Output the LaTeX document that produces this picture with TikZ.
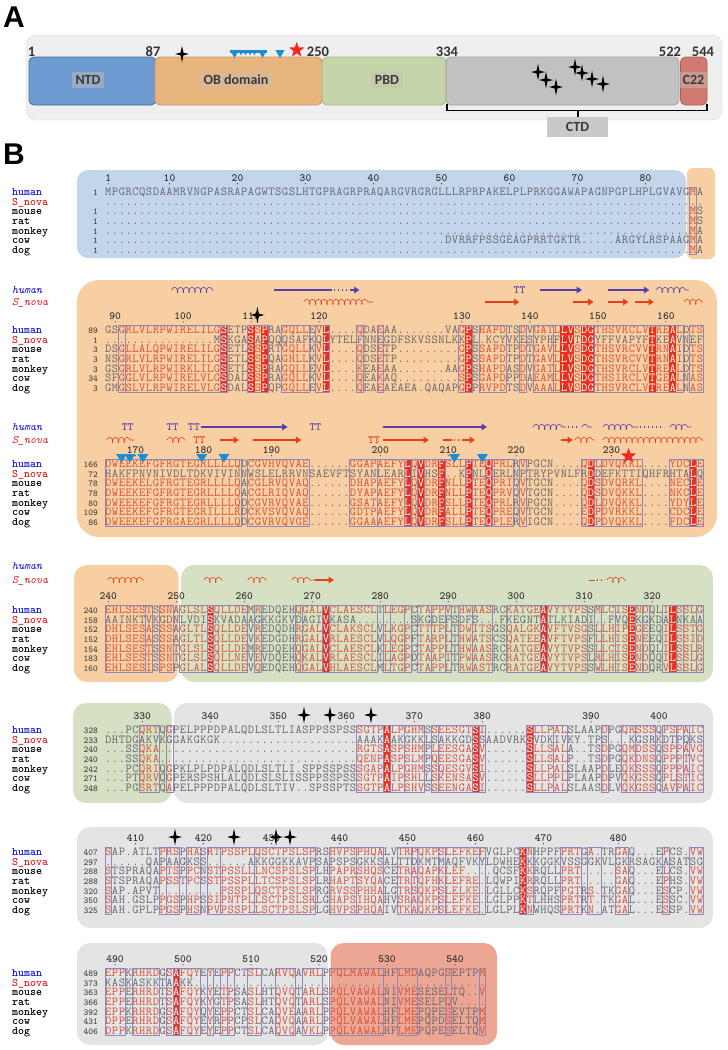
\documentclass[tikz,border=0pt]{standalone}
\usepackage{fontspec}
\newfontfamily\calfont{Carlito}
\newfontfamily\panfont{Liberation Sans}
\usetikzlibrary{arrows.meta,decorations.pathmorphing,shapes.geometric}

\definecolor{outergray}{HTML}{EFEFEF}
\definecolor{outerline}{HTML}{DADADA}
\definecolor{ntdblue}{HTML}{6F9BD3}
\definecolor{ntdline}{HTML}{45699A}
\definecolor{obtan}{HTML}{E8B47D}
\definecolor{obline}{HTML}{CC9962}
\definecolor{pbdgreen}{HTML}{C6D4A9}
\definecolor{pbdline}{HTML}{ABBA8E}
\definecolor{ctdgray}{HTML}{C1C1C1}
\definecolor{ctdline}{HTML}{A2A2A2}
\definecolor{c22red}{HTML}{D07A72}
\definecolor{c22line}{HTML}{B05E57}
\definecolor{labgray}{HTML}{3A3A3A}
\definecolor{labfill}{HTML}{C8C0B4}
\definecolor{ctdbox}{HTML}{C9C9C9}
\definecolor{bgblue}{HTML}{C3D5EA}
\definecolor{bgorange}{HTML}{F8CFA2}
\definecolor{bggreen}{HTML}{D6E0C2}
\definecolor{bggray}{HTML}{E4E4E4}
\definecolor{bgred}{HTML}{EDA594}
\definecolor{seqgray}{HTML}{66666E}
\definecolor{seqred}{HTML}{D5503A}
\definecolor{hlred}{HTML}{E8301C}
\definecolor{boxcol}{HTML}{8D87BC}
\definecolor{sshum}{HTML}{5B3EAE}
\definecolor{ssnov}{HTML}{E8401C}
\definecolor{triblue}{HTML}{1D8DD1}
\definecolor{starred}{HTML}{F0281E}
\definecolor{humblue}{HTML}{1515D6}
\definecolor{novred}{HTML}{E21E1E}
\definecolor{numgray}{HTML}{333333}

% alignment grid: column 1 starts at x=104.9, one column is 6.8 wide
\newlength\cw \setlength\cw{6.8pt}
\def\tendots{..........}
\def\gobbleone#1{}
\def\keepone#1{#1}

% column mask: - plain, r boxed, H identical
\newcommand\mkmask[2]{%
  \xdef\curmask{}%
  \foreach \ci in {1,...,#1}{%
    \xdef\mcc{-}%
    \foreach \ma/\mb/\mt in #2{%
      \ifnum\ci<\ma\relax\else\ifnum\ci>\mb\relax\else\xdef\mcc{\mt}\fi\fi}%
    \xdef\curmask{\curmask\mcc}}%
  \xdef\curmask{\curmask------}}

\def\nmch#1{\makebox[\cw]{\color{seqgray}#1}}
\def\rdch#1{\makebox[\cw]{\color{seqred}#1}}
\def\hlch#1{{\fboxsep=0pt\colorbox{hlred}{\makebox[\cw]{\rule[-1.5pt]{0pt}{9.65pt}\color{white}#1}}}}
\def\seqch#1{%
  \if H\mcur \hlch{#1}%
  \else\if r\mcur \ifnum\snflag=1 \nmch{#1}\else\rdch{#1}\fi
  \else \nmch{#1}\fi\fi}
\def\popmask#1#2\relax{\gdef\mcur{#1}\gdef\mrest{#2}}
\def\seqloop#1#2\relax{%
  \expandafter\popmask\mrest\relax
  \seqch{#1}%
  \ifx\relax#2\relax\expandafter\gobbleone\else\expandafter\keepone\fi
  {\seqloop#2\relax}}
\newcommand\seqrow[2]{%
  \gdef\snflag{#2}\xdef\mrest{\curmask}%
  \edef\seqtmp{#1}\expandafter\seqloop\seqtmp\relax}

% name, first row centre, row index, start number, sequence, S_nova flag
\newcommand\alnrow[6]{%
  \node[rownum] (#1n) at (98,{#2+#3*9.65+3.4}) {#4};
  \node[seqtxt] (#1) at (104.9,{#2+#3*9.65+3.4}) {\seqrow{#5}{#6}};}

\newcommand\spnames[2]{%
  \foreach \sp/\scol [count=\k from 0] in {human/humblue,S\_nova/novred,mouse/black,rat/black,monkey/black,cow/black,dog/black}
    \node[spname, text=\scol] (#1\k) at (12,{#2+\k*9.65+3.4}) {\sp};}

\newcommand\ruler[2]{%
  \foreach \rn/\cl in {#2}{%
    \node[rulenum] (rl\rn) at ({104.9+(\cl-0.5)*6.8},#1-14) {\rn};
    \fill[numgray] ({104.9+(\cl-0.5)*6.8},#1-8.2) circle (0.6);}}

\newcommand\drawboxes[2]{%
  \foreach \ma/\mb/\mt in #1{%
    \if r\mt\draw[boxln] ({104.9+(\ma-1)*6.8},#2-4.85) rectangle ({104.9+\mb*6.8},#2+62.75);\fi}}

\newcommand\sparkle[2]{\fill[black] (#1,#2) ++(0,-8.5) -- ++(1.4,7.1) -- ++(5.6,1.4) -- ++(-5.6,1.4) -- ++(-1.4,7.1) -- ++(-1.4,-7.1) -- ++(-5.6,-1.4) -- ++(5.6,-1.4) -- cycle;}

\begin{document}
\begin{tikzpicture}[x=1pt,y=-1pt,
  domainbox/.style={rounded corners=5, line width=0.8pt},
  domlab/.style={fill=labfill, fill opacity=0.45, text opacity=1, text=labgray, font=\calfont\bfseries\fontsize{14}{14}\selectfont, inner xsep=4pt, inner ysep=3.5pt},
  posnum/.style={text=numgray, font=\calfont\bfseries\fontsize{14.5}{14.5}\selectfont, inner sep=0},
  panlab/.style={font=\panfont\bfseries\fontsize{30}{30}\selectfont, inner sep=0},
  seqtxt/.style={anchor=base west, inner sep=0, outer sep=0, text height=8.1pt, text depth=1.4pt, font=\ttfamily\fontsize{12.2}{12.2}\selectfont},
  rownum/.style={anchor=base east, inner sep=0, text height=6.5pt, text depth=1pt, text=numgray, font=\ttfamily\fontsize{9}{9}\selectfont},
  spname/.style={anchor=base west, inner sep=0, text height=7.5pt, text depth=1.8pt, font=\ttfamily\bfseries\fontsize{11.4}{11.4}\selectfont},
  sslab/.style={anchor=base west, inner sep=0, font=\ttfamily\itshape\fontsize{11.4}{11.4}\selectfont},
  rulenum/.style={inner sep=0, text=numgray, font=\ttfamily\bfseries\fontsize{11}{11}\selectfont},
  boxln/.style={draw=boxcol, line width=0.6pt},
  helixH/.style={draw=sshum, line width=0.6pt, decorate, decoration={coil, aspect=0.6, segment length=5.8pt, amplitude=2.6pt}},
  helixS/.style={helixH, draw=ssnov},
  strandH/.style={draw=sshum, line width=1.7pt, -{Triangle[length=5.5pt,width=6.5pt]}},
  strandS/.style={strandH, draw=ssnov},
  dotsH/.style={draw=sshum, line width=1.3pt, dash pattern=on 1.3pt off 2.7pt},
  dotsS/.style={dotsH, draw=ssnov},
  ttH/.style={inner sep=0, text=sshum, font=\ttfamily\bfseries\fontsize{11}{11}\selectfont},
  ttS/.style={ttH, text=ssnov},
  redstar/.style={star, star points=5, star point ratio=2.4, fill=starred, minimum size=16pt, inner sep=0}]
\useasboundingbox (0,0) rectangle (728,1050);

% ---------- A: domain map
\node[panlab] (pA) at (14,17) {A};
\draw[fill=outergray, draw=outerline, rounded corners=10] (26,35) rectangle (722,120);
\draw[domainbox, fill=ntdblue, draw=ntdline] (29,57) rectangle (156,105);
\draw[domainbox, fill=obtan, draw=obline] (155,57) rectangle (322,105);
\draw[domainbox, fill=pbdgreen, draw=pbdline] (322,57) rectangle (446,105);
\draw[domainbox, fill=ctdgray, draw=ctdline] (446,57) rectangle (679,105);
\draw[domainbox, fill=c22red, draw=c22line] (680.5,57) rectangle (707,105);
\node[domlab] (ntd) at (88,80) {NTD};
\node[domlab] (ob) at (236,80) {OB domain};
\node[domlab] (pbd) at (387,80) {PBD};
\node[domlab] (c22) at (693.5,80) {C22};
\foreach \p/\x in {1/31.5,87/153,250/318,334/447,522/670,544/703}
  \node[posnum] (n\p) at (\x,51.5) {\p};
\sparkle{182}{54}
\fill[triblue] (230,50) rectangle (267,52.5);
\foreach \x in {234.5,262.5,280}
  \fill[triblue] (\x-4.5,50) -- (\x+4.5,50) -- (\x,58) -- cycle;
\foreach \x in {241,245.5,250,254.5}
  \fill[triblue] (\x-2,51) -- (\x+2,51) -- (\x,55.5) -- cycle;
\node[redstar] (starA) at (296.7,50) {};
\foreach \x/\y in {538/72,546/80,556/87,575/67,582/73,592/79,603/84}
  \sparkle{\x}{\y};
\draw[line width=1.1pt] (447,104) -- (447,110.5) -- (707,110.5) -- (707,104);
\draw[line width=1.1pt] (578,110.5) -- (578,117);
\node[fill=ctdbox, minimum width=61pt, minimum height=20pt, inner sep=0, text=labgray, font=\calfont\bfseries\fontsize{14}{14}\selectfont] (ctd) at (577.5,127) {CTD};

% ---------- B: alignment
\node[panlab] (pB) at (14,154) {B};
\fill[bgblue, rounded corners=11] (77,170) rectangle (686,258);
\fill[bgorange, rounded corners=6] (687,168) rectangle (715,259);
\fill[bgorange, rounded corners=22] (77,280) rectangle (717,537);
\fill[bgorange, rounded corners=13] (74,565) rectangle (178.5,682);
\fill[bggreen, rounded corners=13] (181,565) rectangle (713,682);
\fill[bggreen, rounded corners=13] (73,703) rectangle (171.5,803);
\fill[bggray, rounded corners=13] (174,703) rectangle (713,803);
\fill[bggray, rounded corners=13] (77,827) rectangle (713,928);
\fill[bggray, rounded corners=13] (77,943) rectangle (328,1045);
\fill[bgred, rounded corners=13] (330.5,943) rectangle (497,1045);

% block 1
\def\specA{87/87/r}
\mkmask{88}{\specA}
\spnames{b1l}{192}
\ruler{192}{1/1,10/10,20/20,30/30,40/40,50/50,60/60,70/70,80/80}
\alnrow{b1h}{192}{0}{1}{MPGRCQSDAAMRVNGPASRAPAGWTSGSLHTGPRAGRPRAQARGVRGRGLLLRPRPAKELPLPRKGGAWAPAGNPGPLHPLGVAVGMA}{0}
\alnrow{b1s}{192}{1}{}{\tendots\tendots\tendots\tendots\tendots\tendots\tendots\tendots........}{1}
\alnrow{b1m}{192}{2}{1}{\tendots\tendots\tendots\tendots\tendots\tendots\tendots\tendots......MS}{0}
\alnrow{b1r}{192}{3}{1}{\tendots\tendots\tendots\tendots\tendots\tendots\tendots\tendots......MS}{0}
\alnrow{b1k}{192}{4}{1}{\tendots\tendots\tendots\tendots\tendots\tendots\tendots\tendots......MA}{0}
\alnrow{b1c}{192}{5}{1}{\tendots\tendots\tendots\tendots\tendots DVRRFPSSGEAGPRRTGKTR.....ARGYLRSPAAGMA}{0}
\alnrow{b1d}{192}{6}{1}{\tendots\tendots\tendots\tendots\tendots\tendots\tendots\tendots......MA}{0}
\drawboxes{\specA}{192}

% block 2
\node[sslab, text=humblue] (b2hl) at (12,293.4) {human};
\node[sslab, text=novred] (b2sl) at (12,305.4) {S\_nova};
\draw[helixH] (171.6,290) -- (213.4,290);
\draw[strandH,-] (273.7,290) -- (331.6,290);
\draw[dotsH] (334,290) -- (351,290);
\draw[strandH] (351,290) -- (359.5,290);
\node[ttH] (tt1) at (519.5,290) {TT};
\draw[strandH] (540.4,290) -- (582.1,290);
\draw[strandH] (607.6,290) -- (649.4,290);
\draw[helixH] (656.3,290) -- (688.8,290);
\draw[helixS] (303.8,302) -- (373.4,302);
\draw[strandS] (484.7,302) -- (519.5,302);
\draw[strandS] (572.8,302) -- (593.7,302);
\draw[strandS] (607.6,302) -- (628.5,302);
\draw[strandS] (635.4,302) -- (654,302);
\draw[helixS] (684.1,302) -- (702.7,302);
\def\specB{3/3/r,4/17/r,18/18/r,22/24/r,27/30/r,32/33/r,38/38/r,41/41/r,53/54/r,56/59/r,62/62/r,64/66/r,67/72/r,73/85/r,87/88/r,18/18/H,22/22/H,24/24/H,33/33/H,54/54/H,68/69/H,71/72/H,81/81/H,84/84/H}
\mkmask{88}{\specB}
\spnames{b2l}{330}
\ruler{330}{90/2,100/12,110/22,120/32,130/53,140/63,150/73,160/83}
\alnrow{b2h}{330}{0}{89}{GSGRLVLRPWIRELILGSETPSSPRAGQLLEVL....QDAEAA.......VAGPSHAPDTSDVGATLLVSDGTHSVRCLVTREALDTS}{0}
\alnrow{b2s}{330}{1}{1}{\tendots......MSKGASAPQQQSAFKQLYTELFNNEGDFSKVSSNLKKPL.KCYVKESYPHFLVTDGYFFVAPYFTKEAVNEF}{1}
\alnrow{b2m}{330}{2}{3}{DSGLLALQPWIRELILGSETLSSPRTGQLLKVL....QDSETP.........GPSSAPDTPDTGAVLLVSDGTHSVRCVVTRNAIDTS}{0}
\alnrow{b2r}{330}{3}{3}{NSGRLVLRPWIRELILGSETLSSPQAGHLLKVL....QDSETP.........GPSSAPDTPDTGAVLLVSDGTHSVRCVVTRNAIDTS}{0}
\alnrow{b2k}{330}{4}{3}{GSGRLVLRPWIRKLILGSETLSSPRAGQLLEVL....KEAEAA.......AAGPSHAPDASDVGATLLVSDGTHSVRCLVTREALDTS}{0}
\alnrow{b2c}{330}{5}{34}{SFGGLVLRPWIRELVLGSDALSSPRAGQLLKVL....QEAKAQ.........SPSGAPDPPDAEAMLLVSDGTHSIRCLVTGEALNAS}{0}
\alnrow{b2d}{330}{6}{3}{GMGSLVLRPWIRELVLGSDALSSPQPGQLLEVL....QEAEAEAEA.QAQAPGPPRVPDTSDVAAALLVSDGTHSVRCLVTREALNAS}{0}
\drawboxes{\specB}{330}
\sparkle{257.4}{315}

% block 3
\node[sslab, text=humblue] (b3hl) at (12,430.4) {human};
\node[sslab, text=novred] (b3sl) at (12,443.4) {S\_nova};
\foreach \x/\n in {127.6/a,172.5/b,194/c,315.4/d}
  \node[ttH] (tth\n) at (\x,427) {TT};
\draw[strandH] (201,427) -- (287.6,427);
\draw[strandH] (382.7,427) -- (487,427);
\draw[helixH] (533,427) -- (566,427);
\draw[dotsH] (568,427) -- (580,427);
\draw[helixH] (582,427) -- (592,427);
\draw[helixH] (603,427) -- (638,427);
\draw[dotsH] (640,427) -- (664,427);
\draw[helixH] (670,427) -- (691,427);
\draw[helixS] (106.7,440) -- (134.5,440);
\draw[helixS] (167,440) -- (185.5,440);
\node[ttS] (tts1) at (199.4,440) {TT};
\draw[strandS] (220,440) -- (239,440);
\draw[strandS] (253,440) -- (301.5,440);
\node[ttS] (tts2) at (374,440) {TT};
\draw[strandS] (383,440) -- (429,440);
\draw[strandS,-] (443,440) -- (452,440);
\draw[dotsS] (454,440) -- (463,440);
\draw[strandS] (463,440) -- (475,440);
\draw[strandS] (561,440) -- (573,440);
\draw[helixS] (575,440) -- (594,440);
\draw[helixS] (603,440) -- (703,440);
\def\specC{1/20/r,22/30/r,37/40/r,41/44/r,45/45/r,46/46/r,47/47/r,48/50/r,51/53/r,54/54/r,55/56/r,57/57/r,58/60/r,62/62/r,71/72/r,73/73/r,74/79/r,84/86/r,87/87/r,88/88/r,45/45/H,47/47/H,50/50/H,54/54/H,57/57/H,72/72/H,87/87/H}
\mkmask{88}{\specC}
\spnames{b3l}{464}
\ruler{464}{170/5,180/15,190/25,200/41,210/51,220/61,230/75}
\alnrow{b3h}{464}{0}{166}{DWEEKEFGFRGTEGRLLLLQDCGVHVQVAE......GGAPAEFYLQVDRFSLLPTEQPRLRVPGCN....QDLDVQKKL....YDCLE}{0}
\alnrow{b3s}{464}{1}{72}{HAKFPNVNIVDLTDKVIVINNWSLELRRVNSAEVFTSYANLEARLIVHSF..KPNLQERLNPTRYPVNLFRDDEFKTTIQHFRHTALQ}{1}
\alnrow{b3m}{464}{2}{78}{DWEEKELGFRGTEGRLLLLQACGLRVQVAQ......DHAPAEFYLQVDRFNLLPTEQPRIQVTGCN....QDSDVQRKL....NECLE}{0}
\alnrow{b3r}{464}{3}{78}{DWEEKEFGFRGTEGRLLLLQACGLRIQVAQ......DYAPAEFYLQVDRFNLLPTEQPRVQVTGCN....QDSDVQKKL....NKCLE}{0}
\alnrow{b3k}{464}{4}{80}{DWEEKEFGFRGTEGRLLLLQDCGVRVQVAE......GSATAEFYLQVDRFSLLPTEQPRLRVPGCN....QDLDVQKKL....YDYLE}{0}
\alnrow{b3c}{464}{5}{109}{DWEEKEFGFRGTEGRILLLRDCKVSVQVAQ......GDTPAEFYLQVDRFALLPTEQPREQVTGCN....EDPDVRKKL....CDCLE}{0}
\alnrow{b3d}{464}{6}{86}{DWEEKEFGFRGAEGRLLLLQDCGVRVQVGE......GGAAAEFYLQVDRFSLLPTEQPLERVIGCN....QDPDVQKKL....FDCLE}{0}
\drawboxes{\specC}{464}
\foreach \x in {121.5,129.9,142.9,201.8,224,454.5,482.4}
  \fill[triblue] (\x-5.5,454) -- (\x+5.5,454) -- (\x,462.5) -- cycle;
\node[redstar] (starB) at (628.5,456) {};

% block 4
\node[sslab, text=humblue] (b4hl) at (12,569.4) {human};
\node[sslab, text=novred] (b4sl) at (12,583.4) {S\_nova};
\draw[helixS] (107.6,580) -- (143.8,580);
\draw[helixS] (204,580) -- (222.6,580);
\draw[helixS] (248,580) -- (266.7,580);
\draw[helixS] (292,580) -- (315.4,580);
\draw[strandS] (315.4,580) -- (334,580);
\draw[helixS] (589,580) -- (595,580);
\draw[dotsS] (597,580) -- (605,580);
\draw[helixS] (607,580) -- (626,580);
\def\specD{1/6/r,7/7/r,9/10/r,12/15/r,16/16/r,17/21/r,23/23/r,29/29/r,30/32/r,33/33/r,34/40/r,42/42/r,43/44/r,45/45/r,47/48/r,49/50/r,51/51/r,53/54/r,55/57/r,60/64/r,65/65/r,66/71/r,73/73/r,74/75/r,76/78/r,79/79/r,80/80/r,83/84/r,85/85/r,86/87/r,88/88/r,16/16/H,33/33/H,65/65/H,78/78/H,84/84/H}
\mkmask{88}{\specD}
\spnames{b4l}{610}
\ruler{610}{240/1,250/11,260/21,270/31,280/41,290/51,300/61,310/71,320/81}
\alnrow{b4h}{610}{0}{240}{EHLSESTSSNAGLSLSQLLDEMREDQEHQGALVCLAESCLTLEGPCTAPPVTHWAASRCKATGEAVYTVPSSMLCISENDQLILSSLG}{0}
\alnrow{b4s}{610}{1}{158}{AAINKTVKGDNLVDISKVADAAGKKGKVDAGIVKASA........SKGDEFSDFS...FKEGNTATLKIADI..FVQEKGKDALNKAA}{1}
\alnrow{b4m}{610}{2}{152}{DHLSESASSSAGLTLSQLLDEVREDQDHRGALVCLAKSCLVLKGPCTTTPLTDWITSGSQALGKAVFTVSGSLLHIPEGEEQILSSTG}{0}
\alnrow{b4r}{610}{3}{152}{DHLSESASSSAGLTLSQLLDEVKEDGDHRGALVRLAESCLVLQGPFTARPLTHWATSCSQATEEAVFTVPSFLLHISENEEQILSSID}{0}
\alnrow{b4k}{610}{4}{154}{EHLSESTSSNTGLSLSQLLDEMREDQEHQGALVCLAESCLKLEGPCTAPPLTHWAASRCRATGEAVYTVPSSLLCISENDQLILSSLR}{0}
\alnrow{b4c}{610}{5}{183}{EHLSESTSSNTGLSLSQLLNEVEVDQEHQKALVRLAESCLILAGPDTAAPITPWAASRCRATGEAVYTVPSLRLHISENDQQILSSLG}{0}
\alnrow{b4d}{610}{6}{160}{EHLSESISPSPGLALSQLLDEVQEDQEHQGALVHLAESCLMLTGPCTAPPLTRWASTRCRATGEAVYTVPSSWLHISENDQRVLSSLG}{0}
\drawboxes{\specD}{610}

% block 5
\def\specE{6/8/r,10/10/r,38/41/r,42/42/r,43/44/r,45/47/r,49/49/r,50/54/r,55/55/r,56/56/r,63/63/r,64/66/r,67/68/r,74/74/r,77/78/r,79/81/r,83/84/r,85/85/r,86/86/r,87/88/r,42/42/H,55/55/H,63/63/H}
\mkmask{88}{\specE}
\spnames{b5l}{730}
\ruler{730}{330/6,340/16,350/26,360/36,370/46,380/56,390/72,400/82}
\alnrow{b5h}{730}{0}{328}{...PCQRTQGPELPPPDPALQDLSLTLIASPPSSPSSSGTPALPGHMSSEESGTSI......SLLPALSLAAPDPGQRSSSQPSPAIC}{0}
\alnrow{b5s}{730}{1}{233}{DHTDGAKVKGGAKGKGK\tendots\tendots AAAKAAKGKKLSAKKGDSSAADVRKSVDKIVKY.TPS...KGSRKDTPQKS}{1}
\alnrow{b5m}{730}{2}{240}{...SSQKA\tendots\tendots.........RGTSASPSHMPLEESGASV......SLLSALA..TSDPGQMDSSQSPPAVG}{0}
\alnrow{b5r}{730}{3}{240}{...SSQKA\tendots\tendots.........QENPASPSLMPQEESGASV......SLLSALP..TSDPGQKDNSQPPPTVC}{0}
\alnrow{b5k}{730}{4}{242}{...PCQRIQGPKLPLPDPALQDLSLTLI.SPPSSPSSSGAPALPGHMSSQESGVSI......SLLPALSLAAPDLEQKSSSQPPPAIC}{0}
\alnrow{b5c}{730}{5}{271}{...PTQRVQGPERSPSHLALQDLSLSLISSPPSSPSSSGTPAIPSHLLSKENSASV......SLLPPLPLAAPDPVQKGSSQPLSTIC}{0}
\alnrow{b5d}{730}{6}{248}{...PGSRTQAPELPPPDPALQDLSLTIV..SPSSPTSSGTPALPSHVSSEENGASI......SLLPALSLAASDLVQKGSSQAVPAIC}{0}
\drawboxes{\specE}{730}
\foreach \x in {304,330,371}
  \sparkle{\x}{715};

% block 6
\def\specF{1/1/r,9/9/r,10/11/r,13/14/r,16/17/r,18/22/r,23/31/r,34/37/r,38/41/r,44/45/r,46/46/r,47/49/r,50/50/r,51/55/r,56/56/r,62/62/r,63/63/r,68/70/r,72/73/r,76/77/r,83/83/r,87/88/r,62/62/H}
\mkmask{88}{\specF}
\spnames{b6l}{852}
\ruler{852}{410/5,420/15,430/25,440/35,450/45,460/55,470/65,480/76}
\alnrow{b6h}{852}{0}{407}{SAP.ATLTPRSPHASRTPSSPLQSCTPSLSPRSHVPSPHQALVTRPQKPSLEFKEFVGLPCKNHPPFPRTGA.TRGAQ...EPCS.VW}{0}
\alnrow{b6s}{852}{1}{297}{......QAPAAGKSS......AKKGGKKAVPSAPSPSGKKSALTTDKMTMAQFVKYLDWHEKKKGGKVSSGGKVLGKRSAGKASATSG}{1}
\alnrow{b6m}{852}{2}{288}{STSPRAQAPTSPPCNSTPSSLLLNCSPSLSPLHPAPRSHQSCETRAQAPKLEF....QCSFKKRQLLPRT.....SAQ...ELCS.VW}{0}
\alnrow{b6r}{852}{3}{288}{STSPRAQAPSSTPCSSTPSSPLLTCSPSLSPLRHAPTSYQACETRTQFHKLEFRE.LQWPIKRRQLLPRT.....GAQ...EPHS.VW}{0}
\alnrow{b6k}{852}{4}{320}{SAP.APVT.........PSSPLQSCTPSLSPRGRVSSPHHALGTRSQKPSLELKE.LGLLCKSRQPFPGTRS.TKGAQ...ESCP.VW}{0}
\alnrow{b6c}{852}{5}{350}{SAH.GSLPPGSPHPSSIPNTPLLSCTPSLSRLGHAPSIHQAHVSRAQKPSLEFKE.LGLPPKTLHHSPRTRT.TKGAL...ESSC.VW}{0}
\alnrow{b6d}{852}{6}{325}{SAH.GPLPPGSPHSNPVPSSPLLSCTPSLSPLGHVPSPHQAIVTKAQKPSLEFKE.LGLPLKNWHQSPRTKN.ATGAL...ESSP.VW}{0}
\drawboxes{\specF}{852}
\foreach \x in {175,234,276,290}
  \sparkle{\x}{837};

% block 7
\def\specG{1/3/r,5/8/r,10/10/r,11/11/r,12/14/r,16/16/r,18/18/r,19/19/r,22/23/r,26/28/r,30/32/r,34/41/r,44/46/r,51/51/r,56/56/r,11/11/H}
\mkmask{56}{\specG}
\spnames{b7l}{973}
\ruler{973}{490/2,500/12,510/22,520/32,530/42,540/52}
\alnrow{b7h}{973}{0}{489}{EPPKRHRDGSAFQYEYEPPCTSLCARVQAVRLPPQLMAWALHFLMDAQPGSEPTPM}{0}
\alnrow{b7s}{973}{1}{373}{KASKASKKTAAKK\tendots\tendots\tendots\tendots...}{1}
\alnrow{b7m}{973}{2}{363}{EPPERHRDTSAFQYKYETPSASLHTQVQTARLSPQLVAWALNIVMESESELTQ..V}{0}
\alnrow{b7r}{973}{3}{366}{EPPERHRDTSAFQYKYGTPSASLHTQVQTARLSPQLVAWALNIVMESELPQV....}{0}
\alnrow{b7k}{973}{4}{392}{EPPKRHRDGSAFQYQYEPPCTSLCAQVEAARLPPQLVAWALHFLMEPQPESEVTPM}{0}
\alnrow{b7c}{973}{5}{431}{DPPERHRDGSAFQYEYRPPCPSLCAQVQAARLPPQLVAWALHFLMEPQPDSELTQM}{0}
\alnrow{b7d}{973}{6}{406}{DPPKRHRDGSAFQYEYEPPCTSLCAQVQAVKLPPQLVAWALHFLMEPQPESELTQV}{0}
\drawboxes{\specG}{973}
\end{tikzpicture}
\end{document}
